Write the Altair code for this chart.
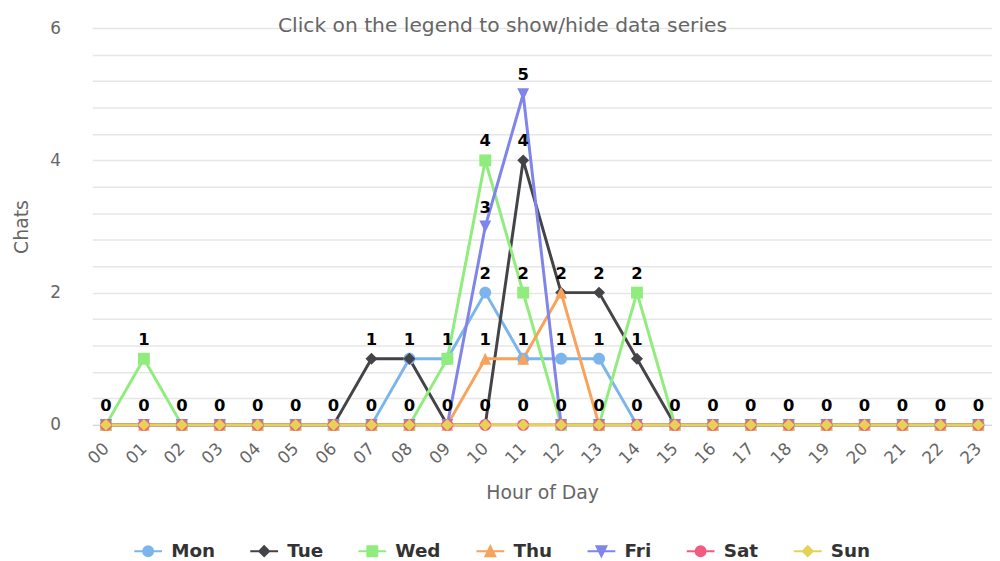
import altair as alt
import pandas as pd

hours = ["00", "01", "02", "03", "04", "05", "06", "07", "08", "09", "10", "11",
         "12", "13", "14", "15", "16", "17", "18", "19", "20", "21", "22", "23"]
days = ["Mon", "Tue", "Wed", "Thu", "Fri", "Sat", "Sun"]
colors = ["#7cb5ec", "#434348", "#90ed7d", "#f7a35c", "#8085e9", "#f15c80", "#e4d354"]

mon = [0, 0, 0, 0, 0, 0, 0, 0, 1, 1, 2, 1, 1, 1, 0, 0, 0, 0, 0, 0, 0, 0, 0, 0]
tue = [0, 0, 0, 0, 0, 0, 0, 1, 1, 0, 0, 4, 2, 2, 1, 0, 0, 0, 0, 0, 0, 0, 0, 0]
wed = [0, 1, 0, 0, 0, 0, 0, 0, 0, 1, 4, 2, 0, 0, 2, 0, 0, 0, 0, 0, 0, 0, 0, 0]
thu = [0, 0, 0, 0, 0, 0, 0, 0, 0, 0, 1, 1, 2, 0, 0, 0, 0, 0, 0, 0, 0, 0, 0, 0]
fri = [0, 0, 0, 0, 0, 0, 0, 0, 0, 0, 3, 5, 0, 0, 0, 0, 0, 0, 0, 0, 0, 0, 0, 0]
sat = [0, 0, 0, 0, 0, 0, 0, 0, 0, 0, 0, 0, 0, 0, 0, 0, 0, 0, 0, 0, 0, 0, 0, 0]
sun = [0, 0, 0, 0, 0, 0, 0, 0, 0, 0, 0, 0, 0, 0, 0, 0, 0, 0, 0, 0, 0, 0, 0, 0]
series = [mon, tue, wed, thu, fri, sat, sun]

y_ticks = [0, 0.4, 0.8, 1.2, 1.6, 2, 2.4, 2.8, 3.2, 3.6, 4, 4.4, 4.8, 5.2, 5.6, 6]

rows = []
for d, vals in zip(days, series):
    for h, v in zip(hours, vals):
        rows.append({"Hour": h, "Day": d, "Chats": v})
df = pd.DataFrame(rows)
labels_df = df.drop_duplicates(["Hour", "Chats"])

FONT = "DejaVu Sans"

# marker shapes (Highcharts style)
circle = "M1,0A1,1,0,1,1,-1,0A1,1,0,1,1,1,0Z"
diamond = "M0,-1L1,0L0,1L-1,0Z"
square = "M-1,-1L1,-1L1,1L-1,1Z"
tri_up = "M0,-1L1,1L-1,1Z"
tri_down = "M0,1L1,-1L-1,-1Z"
marker_paths = [circle, diamond, square, tri_up, tri_down, circle, diamond]
legend_paths = ["M-2.8,0H2.8" + p for p in marker_paths]

color_scale = alt.Scale(domain=days, range=colors)

x_enc = alt.X(
    "Hour:O", sort=hours,
    scale=alt.Scale(type="point", padding=0.36),
    axis=alt.Axis(
        title="Hour of Day", labelAngle=-45, labelAlign="right", labelBaseline="middle",
        labelPadding=21, labelFontSize=17, labelColor="#666666", labelFont=FONT,
        ticks=False, domainColor="#ccd6eb", domainWidth=1.5, grid=False,
        titleFontSize=19, titleColor="#666666", titleFontWeight="normal", titleFont=FONT,
        titleY=74, titleBaseline="alphabetic",
    ),
)
y_enc = alt.Y(
    "Chats:Q",
    scale=alt.Scale(domain=[0, 6], nice=False),
    axis=alt.Axis(
        values=y_ticks,
        labelExpr="datum.value % 2 == 0 ? format(datum.value, 'd') : ''",
        gridColor="#e6e6e6", gridWidth=1.5, domain=False, ticks=False,
        labelPadding=32, labelFontSize=17, labelColor="#666666", labelFont=FONT,
        title="Chats", titleFontSize=19, titleColor="#666666", titleFontWeight="normal",
        titleFont=FONT, titleX=-65, titleBaseline="alphabetic",
    ),
)

lines = alt.Chart(df).mark_line(strokeWidth=3).encode(
    x=x_enc, y=y_enc,
    color=alt.Color("Day:N", scale=color_scale, legend=None),
)

points = alt.Chart(df).mark_point(filled=True, size=144, opacity=1).encode(
    x=x_enc, y=y_enc,
    color=alt.Color("Day:N", scale=color_scale, legend=None),
    shape=alt.Shape("Day:N", scale=alt.Scale(domain=days, range=marker_paths), legend=None),
)

labels = alt.Chart(labels_df).mark_text(
    font=FONT, fontSize=16.5, fontWeight="bold", color="#000000",
    baseline="alphabetic", dy=-14,
).encode(x=x_enc, y=y_enc, text="Chats:Q")

leg = alt.Legend(
    title=None, orient="none", legendX=47, legendY=518, direction="horizontal",
    labelFontSize=18.5, labelFontWeight="bold", labelColor="#333333", labelFont=FONT,
    symbolSize=100, symbolStrokeWidth=2, symbolOpacity=1, labelOffset=14,
    columnPadding=31, padding=0,
)

legend_layer = alt.Chart(df).mark_point(filled=True, opacity=0, strokeWidth=2, size=100).encode(
    x=x_enc, y=y_enc,
    color=alt.Color("Day:N", scale=color_scale, legend=leg),
    shape=alt.Shape("Day:N", scale=alt.Scale(domain=days, range=legend_paths), legend=leg),
    stroke=alt.Stroke("Day:N", scale=color_scale, legend=leg),
)

chart = alt.layer(lines, points, labels, legend_layer).resolve_scale(
    shape="independent", color="independent", stroke="independent"
).properties(
    width=907, height=400,
    autosize=alt.AutoSizeParams(type="none"),
    padding={"left": 85, "top": 18, "right": 0, "bottom": 140},
    title=alt.TitleParams(
        "Click on the legend to show/hide data series",
        font=FONT, fontSize=20.4, fontWeight="normal", color="#666666",
        anchor="middle", frame="group", baseline="alphabetic", offset=-33, dx=-40,
    ),
    background="white",
).configure_view(stroke=None)

chart.save("out.html", embed_options={"renderer": "svg", "actions": False})
